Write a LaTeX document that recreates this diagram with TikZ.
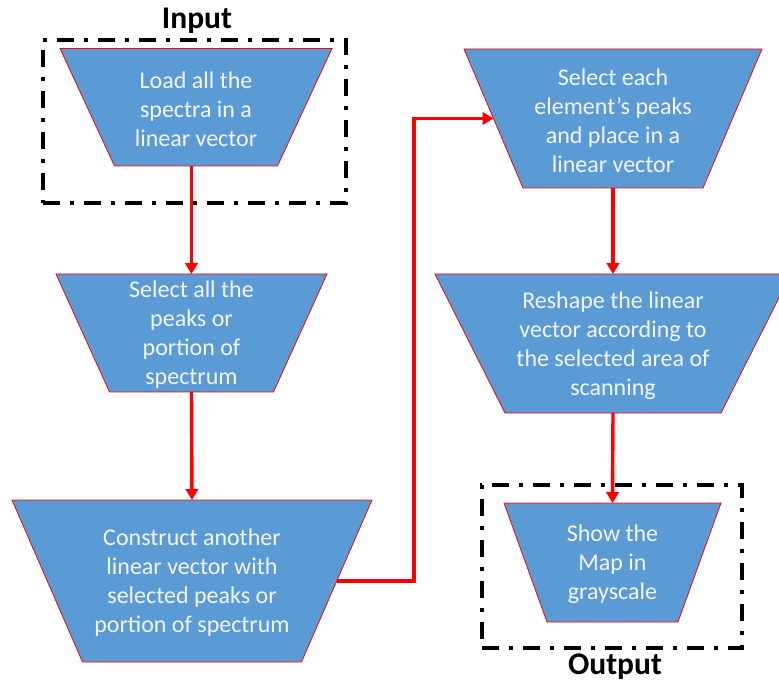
\documentclass[tikz,border=0pt]{standalone}
\usepackage{fontspec}
\setmainfont{Carlito}
\usetikzlibrary{arrows.meta,calc}
\definecolor{boxblue}{HTML}{5B9BD5}
\definecolor{boxtext}{HTML}{F2F5FA}
% name, cx, ytop, half top width, half bottom width, ybottom, text
\newcommand{\trapshape}[7]{%
  \coordinate (#1-tl) at ({#2-#4},#3);
  \coordinate (#1-tr) at ({#2+#4},#3);
  \coordinate (#1-br) at ({#2+#5},#6);
  \coordinate (#1-bl) at ({#2-#5},#6);
  \coordinate (#1-t) at (#2,#3);
  \coordinate (#1-b) at (#2,#6);
  \coordinate (#1-rm) at ($(#1-tr)!0.5!(#1-br)$);
  \coordinate (#1-lm) at ($(#1-tl)!0.5!(#1-bl)$);
  \path[trapbox] (#1-tl) -- (#1-tr) -- (#1-br) -- (#1-bl) -- cycle;
  \node[traptext] (#1) at (#2,{(#3+#6)/2}) {#7};
}
\begin{document}
\begin{tikzpicture}[x=1pt,y=-1pt,
  trapbox/.style={fill=boxblue, draw=red, line width=0.8pt},
  traptext/.style={text=boxtext, align=center, font=\fontsize{24}{29}\selectfont, inner sep=0pt, yshift=-2pt},
  flow/.style={draw=red, line width=3.4pt, -{Triangle[length=11pt,width=12.5pt]}},
  ioframe/.style={draw=black, line width=3.5pt, dash pattern=on 17pt off 10pt on 4pt off 10pt, inner sep=0pt},
  boxtitle/.style={font=\fontsize{31.5}{36}\selectfont\bfseries, text=black, inner sep=0pt}
]
\useasboundingbox (0,0) rectangle (779,684);

% frames
\node[ioframe, minimum width=303pt, minimum height=163pt] (inbox) at (194.5,121.5) {};
\node[ioframe, minimum width=260pt, minimum height=163pt] (outbox) at (612,566.5) {};
\node[boxtitle] (intitle) at (197,21) {Input};
\node[boxtitle] (outtitle) at (615,667) {Output};

% shapes
\trapshape{s1}{196}{48.5}{136}{81.5}{166}{Load all the\\spectra in a\\linear vector}
\trapshape{s2}{191.5}{274}{135.5}{82}{392}{Select all the\\peaks or\\portion of\\spectrum}
\trapshape{s3}{192}{500}{180}{109.5}{662}{Construct another\\linear vector with\\selected peaks or\\portion of spectrum}
\trapshape{s4}{613}{49}{149}{90}{188}{Select each\\element’s peaks\\and place in a\\linear vector}
\trapshape{s5}{613}{274}{178}{108}{413}{Reshape the linear\\vector according to\\the selected area of\\scanning}
\trapshape{s6}{612.5}{503}{108.5}{65.5}{622}{Show the\\Map in\\grayscale}

% connectors
\coordinate (bendx) at (414,300);
\draw[flow] (s2-t |- s1-b) -- (s2-t);
\draw[flow] (s2-b) -- (s3-t);
\draw[flow] (s3-rm) -- (s3-rm -| bendx) |- (s4-lm);
\draw[flow] (s4-b) -- (s5-t);
\draw[flow] (s5-b) -- (s6-t);
\end{tikzpicture}
\end{document}
